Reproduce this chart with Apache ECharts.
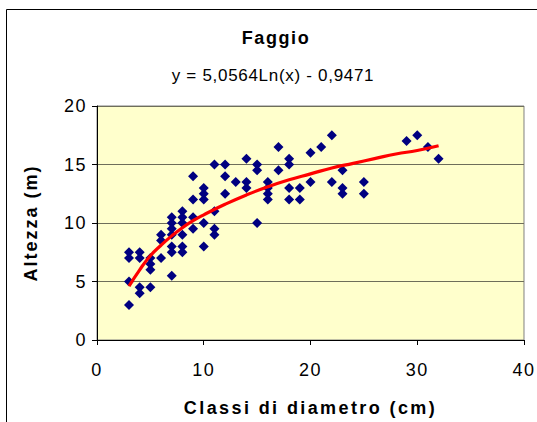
<!DOCTYPE html>
<html>
<head>
<meta charset="utf-8">
<script src="https://cdn.jsdelivr.net/npm/echarts@6/dist/echarts.min.js"></script>
<style>
html,body{margin:0;padding:0;background:#fff;}
#c{width:537px;height:422px;}
</style>
</head>
<body>
<div id="c"></div>
<script>
// Measured points (diameter class, height)
const diamClasses = [3,3,3,3, 4,4,4,4, 5,5,5,5, 6,6,6, 7,7,7,7,7,7,7, 8,8,8,8,8,8, 9,9,9,9, 10,10,10,10,10, 11,11,11,11, 12,12,12, 13, 14,14,14, 15,15,15, 16,16,16,16, 17,17, 18,18,18,18, 19,19, 20,20, 21, 22,22, 23,23,23, 25,25, 29, 30, 31, 32];
const heights    = [7.5,7,5,3, 7.5,7,4.5,4, 7,6.5,6,4.5, 9,8.5,7, 10.5,10,9.5,9,8,7.5,5.5, 11,10.5,10,9,8,7.5, 14,12,10.5,9.5, 13,12.5,12,10,8, 15,11,9.5,9, 15,14,12.5, 13.5, 15.5,13.5,13, 15,14.5,10, 13.5,13,12.5,12, 16.5,14.5, 15.5,15,13,12, 13,12, 16,13.5, 16.5, 17.5,13.5, 14.5,13,12.5, 13.5,12.5, 17, 17.5, 16.5, 15.5];
// Trend line
const trendX = [3,4,5,6,7,8,9,10,12,14,16,18,20,22,24,26,28,30,32];
const trendY = [4.6,6.0,7.2,8.1,8.9,9.6,10.2,10.7,11.6,12.4,13.1,13.7,14.2,14.7,15.1,15.5,15.9,16.2,16.6];
const titleText = "Faggio";
const equationText = "y = 5,0564Ln(x) - 0,9471";
const xAxisName = "Classi di diametro (cm)";
const yAxisName = "Altezza (m)";

const scatterData = diamClasses.map((x,i)=>[x, heights[i]]);
const trendData = trendX.map((x,i)=>[x, trendY[i]]);

const chart = echarts.init(document.getElementById('c'), null, {renderer:'svg'});
const font = 'Liberation Sans, Arial, sans-serif';
chart.setOption({
  animation:false,
  backgroundColor:'#ffffff',
  graphic:[{
    type:'rect', z:-10, silent:true,
    shape:{x:6.5,y:9.5,width:700,height:600},
    style:{fill:'#ffffff',stroke:'#000000',lineWidth:1}
  },{
    type:'text', x:276, y:38, silent:true,
    style:{text:titleText, font:'bold 18px '+font, fill:'#000', textAlign:'center', textVerticalAlign:'middle', align:'center', verticalAlign:'middle'}
  },{
    type:'text', x:273, y:75, silent:true,
    style:{text:equationText, font:'17px '+font, fill:'#000', textAlign:'center', textVerticalAlign:'middle', align:'center', verticalAlign:'middle'}
  }],
  grid:{left:97,right:11,top:106,bottom:82,show:true,backgroundColor:'#FFFFCC',borderColor:'#808080',borderWidth:1},
  xAxis:{
    type:'value', min:0, max:40, interval:10,
    name:xAxisName, nameLocation:'middle', nameGap:59,
    nameTextStyle:{fontFamily:font,fontWeight:'bold',fontSize:18,color:'#000'},
    axisLine:{show:true,lineStyle:{color:'#000',width:1}},
    axisTick:{show:true,length:5,lineStyle:{color:'#000'}},
    axisLabel:{fontFamily:font,fontSize:18,color:'#000',margin:21},
    splitLine:{show:false}
  },
  yAxis:{
    type:'value', min:0, max:20, interval:5,
    name:yAxisName, nameLocation:'middle', nameGap:57,
    nameTextStyle:{fontFamily:font,fontWeight:'bold',fontSize:18,color:'#000'},
    axisLine:{show:true,lineStyle:{color:'#000',width:1}},
    axisTick:{show:true,length:5,lineStyle:{color:'#000'}},
    axisLabel:{fontFamily:font,fontSize:18,color:'#000',margin:10},
    splitLine:{show:true,lineStyle:{color:'#6e6e5a',width:1}}
  },
  series:[{
    type:'scatter', data:scatterData, symbol:'diamond', symbolSize:10,
    itemStyle:{color:'#000080', opacity:1}, z:2
  },{
    type:'line', data:trendData, smooth:true, showSymbol:false, symbol:'none',
    lineStyle:{color:'#FF0000',width:3.2}, z:3
  }]
});
// Emulate the wide character spacing of the original rendering
const spacing = {};
spacing[titleText] = '1.6px';
spacing[equationText] = '0.7px';
spacing[xAxisName] = '2.4px';
spacing[yAxisName] = '2px';
document.querySelectorAll('#c text').forEach(t=>{
  const s = spacing[t.textContent];
  t.style.letterSpacing = s !== undefined ? s : '1.5px';
});
</script>
</body>
</html>
